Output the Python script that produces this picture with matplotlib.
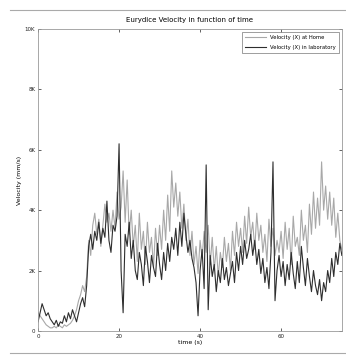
import numpy as np
import matplotlib
matplotlib.use('Agg')
import matplotlib.pyplot as plt
from matplotlib.lines import Line2D
from matplotlib.ticker import FuncFormatter

# sampling step of both series (s)
dt = 0.5

# velocity in thousands of mm/s, one value every dt seconds
home = [0.6, 0.5, 0.4, 0.3, 0.2, 0.15, 0.1, 0.1, 0.15, 0.1, 0.2, 0.15, 0.1,
        0.2, 0.15, 0.2, 0.25, 0.35, 0.5, 0.7, 1.0, 1.2, 1.5, 1.3, 1.8,
        3.0, 2.5, 3.5, 3.9, 3.2, 3.7, 2.8, 3.5, 4.2, 3.6, 3.9, 3.3, 4.0, 3.4, 4.6,
        3.7, 4.1, 5.3, 3.6, 5.0, 3.2, 4.0, 2.8, 3.5, 2.3, 3.9, 2.7, 3.3, 2.2,
        3.6, 2.6, 3.1, 2.1, 3.4, 2.5,
        3.5, 2.7, 4.0, 3.0, 4.5, 3.3, 5.3, 4.1, 4.9, 3.8, 4.6, 3.4, 4.2, 3.0,
        3.7, 2.5, 3.3, 2.2, 2.8, 1.9,
        3.0, 2.4, 3.3, 2.6, 3.5, 2.2, 3.1, 2.0, 2.8, 1.8, 2.6, 2.1, 3.1, 2.3,
        2.9, 2.0, 3.3, 2.5, 3.6, 2.8,
        3.4, 2.6, 3.8, 2.9, 4.1, 3.1, 3.6, 2.7, 3.9, 3.0, 3.5, 2.6, 3.2, 2.3,
        3.7, 2.8, 3.4, 2.5, 3.0, 2.6,
        3.3, 2.4, 3.6, 2.7, 3.4, 2.2, 3.8, 2.8, 3.1, 2.5, 4.0, 3.0, 3.5, 2.6,
        4.2, 3.2, 4.6, 3.4, 4.4, 3.5,
        5.6, 4.0, 4.8, 3.7, 4.6, 3.5, 4.4, 3.1, 3.9, 3.0, 2.7]

lab = [0.3, 0.6, 0.9, 0.7, 0.5, 0.6, 0.4, 0.3, 0.2, 0.35, 0.15, 0.3, 0.25,
       0.5, 0.3, 0.6, 0.4, 0.7, 0.5, 0.3, 0.6, 0.9, 1.1, 0.8, 1.5,
       2.8, 3.2, 2.7, 3.3, 3.0, 3.6, 2.9, 3.4, 3.1, 4.3, 3.0, 2.6, 3.5, 3.3, 3.8,
       6.2, 2.0, 0.6, 3.2, 2.8, 3.6, 2.4, 3.0, 2.0, 1.7, 2.6, 2.2, 1.5, 2.8,
       2.3, 1.6, 2.5, 2.1, 1.8, 2.9,
       2.2, 1.7, 2.6, 2.0, 2.9, 2.3, 3.1, 2.7, 3.4, 2.5, 3.6, 2.8, 3.9, 3.2,
       2.6, 3.0, 2.4, 2.1, 1.6, 0.5,
       2.0, 2.7, 1.4, 5.5, 0.7, 2.5, 1.8, 2.2, 1.3, 2.0, 1.6, 2.4, 1.7, 2.1,
       1.5, 1.9, 2.3, 1.6, 2.6, 2.0,
       2.8, 2.2, 3.0, 2.4, 2.7, 3.2, 2.5, 3.0, 2.2, 2.7, 1.9, 2.4, 1.6, 2.1,
       1.4, 2.6, 5.6, 1.0, 2.0, 2.5,
       1.8, 2.3, 1.5, 2.2, 1.7, 2.6, 1.9, 1.4, 2.3, 1.6, 2.8, 2.1, 1.5, 2.4,
       1.8, 1.3, 2.0, 1.5, 1.2, 1.7,
       1.0, 1.6, 1.3, 2.0, 1.6, 2.4, 1.8, 2.6, 2.2, 2.9, 2.5]

x_ticks = [0, 20, 40, 60]
y_ticks = [0, 2000, 4000, 6000, 8000, 10000]

t = np.arange(len(home)) * dt

fig = plt.figure(figsize=(3.46, 3.55), dpi=100)
ax = fig.add_axes([0.110, 0.068, 0.878, 0.850])

ax.plot(t, np.array(home) * 1000, color='#a8a8a8', lw=0.8,
        label='Velocity (X) at Home')
ax.plot(t, np.array(lab) * 1000, color='#2e2e2e', lw=0.8,
        label='Velocity (X) in laboratory')

ax.set_xlim(0, 75)
ax.set_ylim(0, 10000)
ax.set_xticks(x_ticks)
ax.set_yticks(y_ticks)
ax.yaxis.set_major_formatter(FuncFormatter(
    lambda v, p: '0' if v == 0 else '%dK' % (v / 1000)))
ax.tick_params(direction='in', length=2, width=0.5, labelsize=4,
               top=True, right=True, colors='#222222', pad=2)
for s in ax.spines.values():
    s.set_color('#999999')
    s.set_linewidth(0.6)

ax.set_title('Eurydice Velocity in function of time', fontsize=5, pad=5)
ax.set_xlabel('time (s)', fontsize=4.5, labelpad=1)
ax.set_ylabel('Velocity (mm/s)', fontsize=4.5, labelpad=2)

leg = ax.legend(loc='upper right', fontsize=3.8, frameon=True, fancybox=False,
                handlelength=4, borderpad=0.6, labelspacing=0.9)
leg.get_frame().set_edgecolor('#555555')
leg.get_frame().set_linewidth(0.5)

# thin rules above and below the figure
fig.add_artist(Line2D([0.03, 1.0], [0.972, 0.972], color='#aaaaaa', lw=0.8))
fig.add_artist(Line2D([0.03, 1.0], [0.007, 0.007], color='#aaaaaa', lw=0.8))

fig.savefig('out.png', dpi=100)
